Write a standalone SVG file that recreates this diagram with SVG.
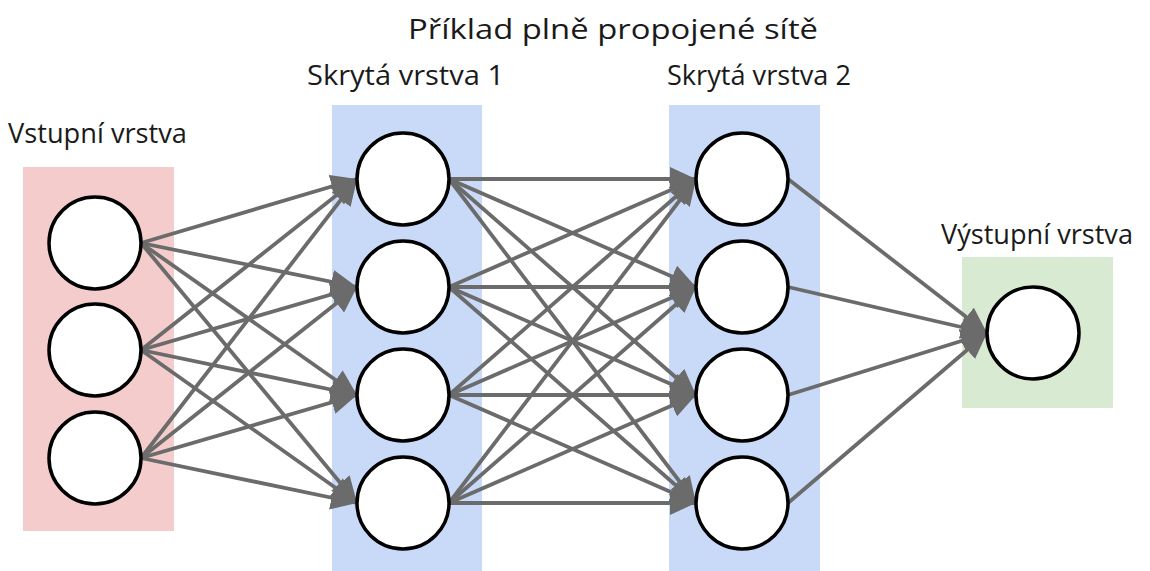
<svg xmlns="http://www.w3.org/2000/svg" width="1150" height="571" viewBox="0 0 1150 571">
<style>
.lbl{font-family:"Open Sans","Liberation Sans",sans-serif;font-size:27px;fill:#1a1a1a}
.ttl{font-family:"Open Sans","Liberation Sans",sans-serif;font-size:27px;fill:#1a1a1a}
.node{fill:#fff;stroke:#000;stroke-width:3.5}
.edge{stroke:#6b6b6b;stroke-width:3.8;fill:none;marker-end:url(#ah)}
</style>
<defs>
<marker id="ah" markerUnits="userSpaceOnUse" markerWidth="26" markerHeight="24" viewBox="0 0 26 24" refX="26" refY="12" orient="auto">
<path d="M0,0 L26,12 L0,24 z" fill="#6b6b6b"/>
</marker>
</defs>
<rect width="1150" height="571" fill="#fff"/>
<text class="ttl" x="613" y="39" text-anchor="middle" textLength="410" lengthAdjust="spacingAndGlyphs">Příklad plně propojené sítě</text>
<g id="layer-input">
<rect x="23" y="167" width="151" height="364" fill="#f4cccc"/>
<text class="lbl" x="8" y="143" textLength="179" lengthAdjust="spacingAndGlyphs">Vstupní vrstva</text>
</g>
<g id="layer-hidden1">
<rect x="332" y="105" width="150" height="466" fill="#c9daf8"/>
<text class="lbl" x="307" y="85" textLength="197" lengthAdjust="spacingAndGlyphs">Skrytá vrstva 1</text>
</g>
<g id="layer-hidden2">
<rect x="669" y="105" width="151" height="466" fill="#c9daf8"/>
<text class="lbl" x="667" y="85" textLength="184" lengthAdjust="spacingAndGlyphs">Skrytá vrstva 2</text>
</g>
<g id="layer-output">
<rect x="962" y="257" width="151" height="151" fill="#d9ead3"/>
<text class="lbl" x="941" y="244" textLength="192" lengthAdjust="spacingAndGlyphs">Výstupní vrstva</text>
</g>
<g id="connectors">
<line class="edge" x1="141" y1="243" x2="357" y2="179"/>
<line class="edge" x1="141" y1="243" x2="357" y2="287"/>
<line class="edge" x1="141" y1="243" x2="357" y2="395"/>
<line class="edge" x1="141" y1="243" x2="357" y2="503"/>
<line class="edge" x1="141" y1="350" x2="357" y2="179"/>
<line class="edge" x1="141" y1="350" x2="357" y2="287"/>
<line class="edge" x1="141" y1="350" x2="357" y2="395"/>
<line class="edge" x1="141" y1="350" x2="357" y2="503"/>
<line class="edge" x1="141" y1="458" x2="357" y2="179"/>
<line class="edge" x1="141" y1="458" x2="357" y2="287"/>
<line class="edge" x1="141" y1="458" x2="357" y2="395"/>
<line class="edge" x1="141" y1="458" x2="357" y2="503"/>
<line class="edge" x1="449" y1="179" x2="696" y2="179"/>
<line class="edge" x1="449" y1="179" x2="696" y2="287"/>
<line class="edge" x1="449" y1="179" x2="696" y2="395"/>
<line class="edge" x1="449" y1="179" x2="696" y2="503"/>
<line class="edge" x1="449" y1="287" x2="696" y2="179"/>
<line class="edge" x1="449" y1="287" x2="696" y2="287"/>
<line class="edge" x1="449" y1="287" x2="696" y2="395"/>
<line class="edge" x1="449" y1="287" x2="696" y2="503"/>
<line class="edge" x1="449" y1="395" x2="696" y2="179"/>
<line class="edge" x1="449" y1="395" x2="696" y2="287"/>
<line class="edge" x1="449" y1="395" x2="696" y2="395"/>
<line class="edge" x1="449" y1="395" x2="696" y2="503"/>
<line class="edge" x1="449" y1="503" x2="696" y2="179"/>
<line class="edge" x1="449" y1="503" x2="696" y2="287"/>
<line class="edge" x1="449" y1="503" x2="696" y2="395"/>
<line class="edge" x1="449" y1="503" x2="696" y2="503"/>
<line class="edge" x1="788" y1="179" x2="987" y2="333"/>
<line class="edge" x1="788" y1="287" x2="987" y2="333"/>
<line class="edge" x1="788" y1="395" x2="987" y2="333"/>
<line class="edge" x1="788" y1="503" x2="987" y2="333"/>
</g>
<g id="in1"><circle class="node" cx="95" cy="243" r="46"/></g>
<g id="in2"><circle class="node" cx="95" cy="350" r="46"/></g>
<g id="in3"><circle class="node" cx="95" cy="458" r="46"/></g>
<g id="h1a"><circle class="node" cx="403" cy="179" r="46"/></g>
<g id="h1b"><circle class="node" cx="403" cy="287" r="46"/></g>
<g id="h1c"><circle class="node" cx="403" cy="395" r="46"/></g>
<g id="h1d"><circle class="node" cx="403" cy="503" r="46"/></g>
<g id="h2a"><circle class="node" cx="742" cy="179" r="46"/></g>
<g id="h2b"><circle class="node" cx="742" cy="287" r="46"/></g>
<g id="h2c"><circle class="node" cx="742" cy="395" r="46"/></g>
<g id="h2d"><circle class="node" cx="742" cy="503" r="46"/></g>
<g id="out1"><circle class="node" cx="1033" cy="333" r="46"/></g>
</svg>
